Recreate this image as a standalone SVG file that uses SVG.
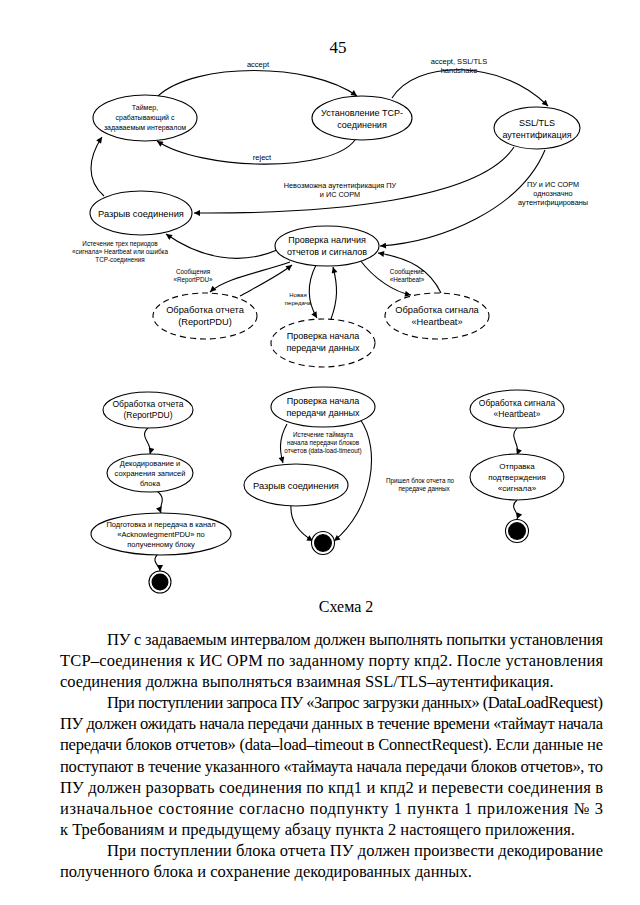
<svg xmlns="http://www.w3.org/2000/svg" width="640" height="905" viewBox="0 0 640 905">
<defs>
<marker id="ah" viewBox="0 0 10 10" refX="10" refY="5" markerWidth="8" markerHeight="6" markerUnits="userSpaceOnUse" orient="auto">
<path d="M0,0 L10,5 L0,10 z" fill="#000"/>
</marker>
</defs>
<style>
.n{fill:#fff;stroke:#000;stroke-width:1.1}
.d{fill:#fff;stroke:#000;stroke-width:1.1;stroke-dasharray:6,4}
.t{font-family:"Liberation Sans",Arial,sans-serif;fill:#000;text-anchor:middle}
.c{fill:none;stroke:#000;stroke-width:1.1;marker-end:url(#ah)}
.p{font-family:"Liberation Serif","Times New Roman",serif;font-size:16.5px;fill:#000}
</style>
<rect width="640" height="905" fill="#fff"/>
<text x="338" y="53" class="p" style="font-size:17px" text-anchor="middle">45</text>

<g id="connectors">
<path class="c" d="M158,96 C195,62 310,62 357,96"/>
<path class="c" d="M392,98 C415,60 500,58 548,106"/>
<path class="c" d="M355,140 C330,174 200,170 157,141"/>
<path class="c" d="M104,196 C86,180 88,158 102,137"/>
<path class="c" d="M514,147 C480,200 330,214 194,213"/>
<path class="c" d="M545,150 C520,210 440,242 380,246"/>
<path class="c" d="M277,250 C240,266 200,258 166,234"/>
<path class="c" d="M290,262 C262,272 225,278 210,292"/>
<path class="c" d="M240,296 C258,286 278,276 292,265"/>
<path class="c" d="M316,265 C306,285 308,303 317,318"/>
<path class="c" d="M331,319 C338,300 338,286 333,267"/>
<path class="c" d="M360,260 C375,280 395,292 411,295"/>
<path class="c" d="M441,293 C430,270 410,258 378,253"/>
<path class="c" d="M148,428 C138,437 153,443 150,454"/>
<path class="c" d="M157,491 C168,500 158,505 161,513"/>
<path class="c" d="M158,554 C150,562 160,565 160,571"/>
<path class="c" d="M287,424 C278,440 280,452 283,463"/>
<path class="c" d="M291,506 C290,525 303,535 313,541"/>
<path class="c" d="M360,419 C382,450 372,510 334,541"/>
<path class="c" d="M517,428 C508,438 521,444 517,455"/>
<path class="c" d="M517,500 C508,508 520,512 517,519"/>
</g>

<g id="edge-labels" class="t">
<text x="258" y="67" font-size="7.5">accept</text>
<text x="459" y="64" font-size="7.5">accept, SSL/TLS</text>
<text x="459" y="73" font-size="7.5">handshake</text>
<text x="262" y="160" font-size="7.5">reject</text>
<text x="340" y="188" font-size="7.3">Невозможна аутентификация ПУ</text>
<text x="340" y="197" font-size="7.3">и ИС СОРМ</text>
<text x="553" y="187" font-size="7.3">ПУ и ИС СОРМ</text>
<text x="553" y="196" font-size="7.3">однозначно</text>
<text x="553" y="205" font-size="7.3">аутентифицированы</text>
<text x="120" y="246" font-size="6.3">Истечение трех периодов</text>
<text x="120" y="254" font-size="6.3">«сигнала» Heartbeat или ошибка</text>
<text x="120" y="262" font-size="6.3">TCP-соединения</text>
<text x="193" y="274" font-size="6.3">Сообщения</text>
<text x="193" y="282" font-size="6.3">«ReportPDU»</text>
<text x="298" y="297" font-size="6">Новая</text>
<text x="298" y="305" font-size="6">передача</text>
<text x="407" y="274" font-size="6.3">Сообщение</text>
<text x="407" y="282" font-size="6.3">«Heartbeat»</text>
<text x="323" y="437" font-size="6.3">Истечение таймаута</text>
<text x="323" y="445" font-size="6.3">начала передачи блоков</text>
<text x="323" y="453" font-size="6.3">отчетов (data-load-timeout)</text>
<text x="420" y="483" font-size="6.3">Пришел блок отчета по</text>
<text x="424" y="491" font-size="6.3">передаче данных</text>
</g>

<g id="timer">
<ellipse class="n" cx="145" cy="118" rx="52" ry="23"/>
<text class="t" font-size="7" x="145" y="110">Таймер,</text>
<text class="t" font-size="7" x="145" y="120">срабатывающий с</text>
<text class="t" font-size="7" x="145" y="130">задаваемым интервалом</text>
</g>
<g id="tcp">
<ellipse class="n" cx="362" cy="118" rx="50" ry="22"/>
<text class="t" font-size="9" x="362" y="116">Установление TCP-</text>
<text class="t" font-size="9" x="362" y="128">соединения</text>
</g>
<g id="ssl">
<ellipse class="n" cx="537" cy="128" rx="43" ry="21"/>
<text class="t" font-size="9" x="537" y="126">SSL/TLS</text>
<text class="t" font-size="9" x="537" y="138">аутентификация</text>
</g>
<g id="break1">
<ellipse class="n" cx="141" cy="213" rx="51" ry="22"/>
<text class="t" font-size="9.3" x="141" y="217">Разрыв соединения</text>
</g>
<g id="check">
<ellipse class="n" cx="327" cy="246" rx="52" ry="20"/>
<text class="t" font-size="9" x="327" y="243">Проверка наличия</text>
<text class="t" font-size="9" x="327" y="255">отчетов и сигналов</text>
</g>
<g id="report-d">
<ellipse class="d" cx="205" cy="316" rx="52" ry="23"/>
<text class="t" font-size="9.3" x="205" y="313">Обработка отчета</text>
<text class="t" font-size="9.3" x="205" y="325">(ReportPDU)</text>
</g>
<g id="start-d">
<ellipse class="d" cx="323" cy="343" rx="52" ry="24"/>
<text class="t" font-size="9" x="323" y="339">Проверка начала</text>
<text class="t" font-size="9" x="323" y="351">передачи данных</text>
</g>
<g id="hb-d">
<ellipse class="d" cx="437" cy="316" rx="52" ry="23"/>
<text class="t" font-size="9.3" x="437" y="313">Обработка сигнала</text>
<text class="t" font-size="9.3" x="437" y="325">«Heartbeat»</text>
</g>

<g id="report">
<ellipse class="n" cx="148" cy="410" rx="45" ry="18"/>
<text class="t" font-size="8.5" x="148" y="407">Обработка отчета</text>
<text class="t" font-size="8.5" x="148" y="418">(ReportPDU)</text>
</g>
<g id="decode">
<ellipse class="n" cx="150" cy="473" rx="43" ry="19"/>
<text class="t" font-size="7.5" x="150" y="466">Декодирование и</text>
<text class="t" font-size="7.5" x="150" y="476">сохранения записей</text>
<text class="t" font-size="7.5" x="150" y="486">блока</text>
</g>
<g id="ack">
<ellipse class="n" cx="161" cy="534" rx="70" ry="21"/>
<text class="t" font-size="7.5" x="161" y="527">Подготовка и передача в канал</text>
<text class="t" font-size="7.5" x="161" y="537">«AcknowlegmentPDU» по</text>
<text class="t" font-size="7.5" x="161" y="547">полученному блоку</text>
</g>
<g id="end1">
<circle cx="160" cy="582" r="11" fill="#fff" stroke="#000" stroke-width="1.1"/>
<circle cx="160" cy="582" r="8.5" fill="#000"/>
</g>

<g id="start">
<ellipse class="n" cx="323" cy="407" rx="52" ry="20"/>
<text class="t" font-size="9" x="323" y="404">Проверка начала</text>
<text class="t" font-size="9" x="323" y="416">передачи данных</text>
</g>
<g id="break2">
<ellipse class="n" cx="296" cy="485" rx="52" ry="21"/>
<text class="t" font-size="9.3" x="296" y="489">Разрыв соединения</text>
</g>
<g id="end2">
<circle cx="323" cy="543" r="11.5" fill="#fff" stroke="#000" stroke-width="1.1"/>
<circle cx="323" cy="543" r="9" fill="#000"/>
</g>

<g id="hb">
<ellipse class="n" cx="517" cy="409" rx="47" ry="19"/>
<text class="t" font-size="8.5" x="517" y="406">Обработка сигнала</text>
<text class="t" font-size="8.5" x="517" y="417">«Heartbeat»</text>
</g>
<g id="send">
<ellipse class="n" cx="517" cy="477" rx="47" ry="23"/>
<text class="t" font-size="8" x="517" y="469">Отправка</text>
<text class="t" font-size="8" x="517" y="480">подтверждения</text>
<text class="t" font-size="8" x="517" y="491">«сигнала»</text>
</g>
<g id="end3">
<circle cx="517" cy="531" r="11.5" fill="#fff" stroke="#000" stroke-width="1.1"/>
<circle cx="517" cy="531" r="9" fill="#000"/>
</g>

<text x="346" y="612" class="p" style="font-size:16px" text-anchor="middle">Схема 2</text>

<g id="paragraph" class="p">
<text x="107" y="645" textLength="496" lengthAdjust="spacing">ПУ с задаваемым интервалом должен выполнять попытки установления</text>
<text x="60" y="666" textLength="543" lengthAdjust="spacing">TCP–соединения к ИС ОРМ по заданному порту кпд2. После установления</text>
<text x="60" y="687">соединения должна выполняться взаимная SSL/TLS–аутентификация.</text>
<text x="107" y="708" textLength="496" lengthAdjust="spacing">При поступлении запроса ПУ «Запрос загрузки данных» (DataLoadRequest)</text>
<text x="60" y="729" textLength="543" lengthAdjust="spacing">ПУ должен ожидать начала передачи данных в течение времени «таймаут начала</text>
<text x="60" y="750" textLength="543" lengthAdjust="spacing">передачи блоков отчетов» (data–load–timeout в ConnectRequest). Если данные не</text>
<text x="60" y="772" textLength="543" lengthAdjust="spacing">поступают в течение указанного «таймаута начала передачи блоков отчетов», то</text>
<text x="60" y="793" textLength="543" lengthAdjust="spacing">ПУ должен разорвать соединения по кпд1 и кпд2 и перевести соединения в</text>
<text x="60" y="814" textLength="543" lengthAdjust="spacing">изначальное состояние согласно подпункту 1 пункта 1 приложения № 3</text>
<text x="60" y="835">к Требованиям и предыдущему абзацу пункта 2 настоящего приложения.</text>
<text x="107" y="856" textLength="496" lengthAdjust="spacing">При поступлении блока отчета ПУ должен произвести декодирование</text>
<text x="60" y="877">полученного блока и сохранение декодированных данных.</text>
</g>
</svg>
